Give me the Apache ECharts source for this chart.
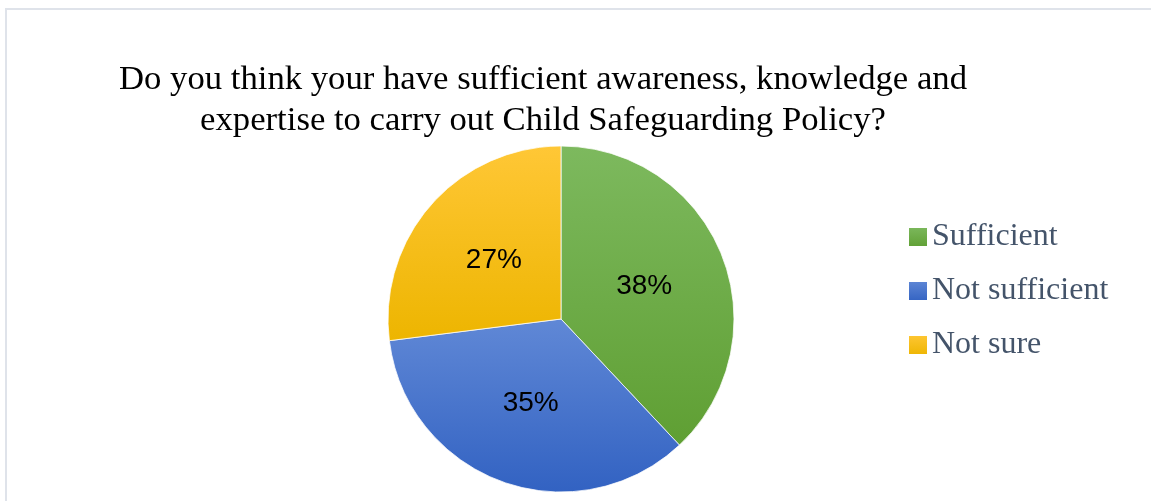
<!DOCTYPE html>
<html>
<head>
<meta charset="utf-8">
<script src="https://cdn.jsdelivr.net/npm/echarts@6/dist/echarts.min.js"></script>
<style>
  html, body { margin: 0; padding: 0; background: #fff; }
  #chart { width: 1151px; height: 501px; }
</style>
</head>
<body>
<div id="chart"></div>
<script>
// Survey answers and their shares (percent)
const categories = ['Sufficient', 'Not sufficient', 'Not sure'];
const shares = [38, 35, 27];
const titleLines = [
  'Do you think your have sufficient awareness, knowledge and',
  'expertise to carry out Child Safeguarding Policy?'
];

// Top/bottom gradient stops for each slice
const sliceColors = [
  ['#7db95e', '#5f9f33'],
  ['#6088d6', '#3262c2'],
  ['#ffc736', '#edb500']
];

function grad(pair) {
  return new echarts.graphic.LinearGradient(0, 0, 0, 1, [
    { offset: 0, color: pair[0] },
    { offset: 1, color: pair[1] }
  ]);
}

const chart = echarts.init(document.getElementById('chart'), null, { renderer: 'canvas' });

chart.setOption({
  backgroundColor: '#ffffff',
  animation: false,
  graphic: [{
    type: 'rect',
    shape: { x: 6, y: 9, width: 1300, height: 700 },
    style: { fill: 'none', stroke: '#dfe3ea', lineWidth: 2 },
    silent: true
  }],
  title: {
    text: titleLines.join('\n'),
    left: 538,
    top: 54,
    textAlign: 'center',
    textStyle: {
      fontFamily: '"Liberation Serif", "Times New Roman", serif',
      fontSize: 34.7,
      fontWeight: 'normal',
      color: '#000000',
      lineHeight: 41
    }
  },
  legend: {
    orient: 'vertical',
    left: 902,
    top: 216,
    itemWidth: 20,
    itemHeight: 20,
    itemGap: 22,
    icon: 'rect',
    selectedMode: false,
    textStyle: {
      fontFamily: '"Liberation Serif", "Times New Roman", serif',
      fontSize: 32,
      lineHeight: 32,
      color: '#44546a',
      padding: [0, 0, 0, -1]
    },
    data: categories
  },
  series: [{
    type: 'pie',
    center: [561, 319],
    radius: 173,
    startAngle: 90,
    clockwise: true,
    avoidLabelOverlap: false,
    percentPrecision: 0,
    itemStyle: { borderColor: '#ffffff', borderWidth: 0.75 },
    label: {
      show: true,
      position: 'inside',
      formatter: '{d}%',
      fontFamily: '"Liberation Sans", Arial, sans-serif',
      fontSize: 28,
      color: '#000000'
    },
    labelLine: { show: false },
    emphasis: { disabled: true },
    data: categories.map((name, i) => ({
      name: name,
      value: shares[i],
      itemStyle: { color: grad(sliceColors[i]) }
    }))
  }]
});
</script>
</body>
</html>
